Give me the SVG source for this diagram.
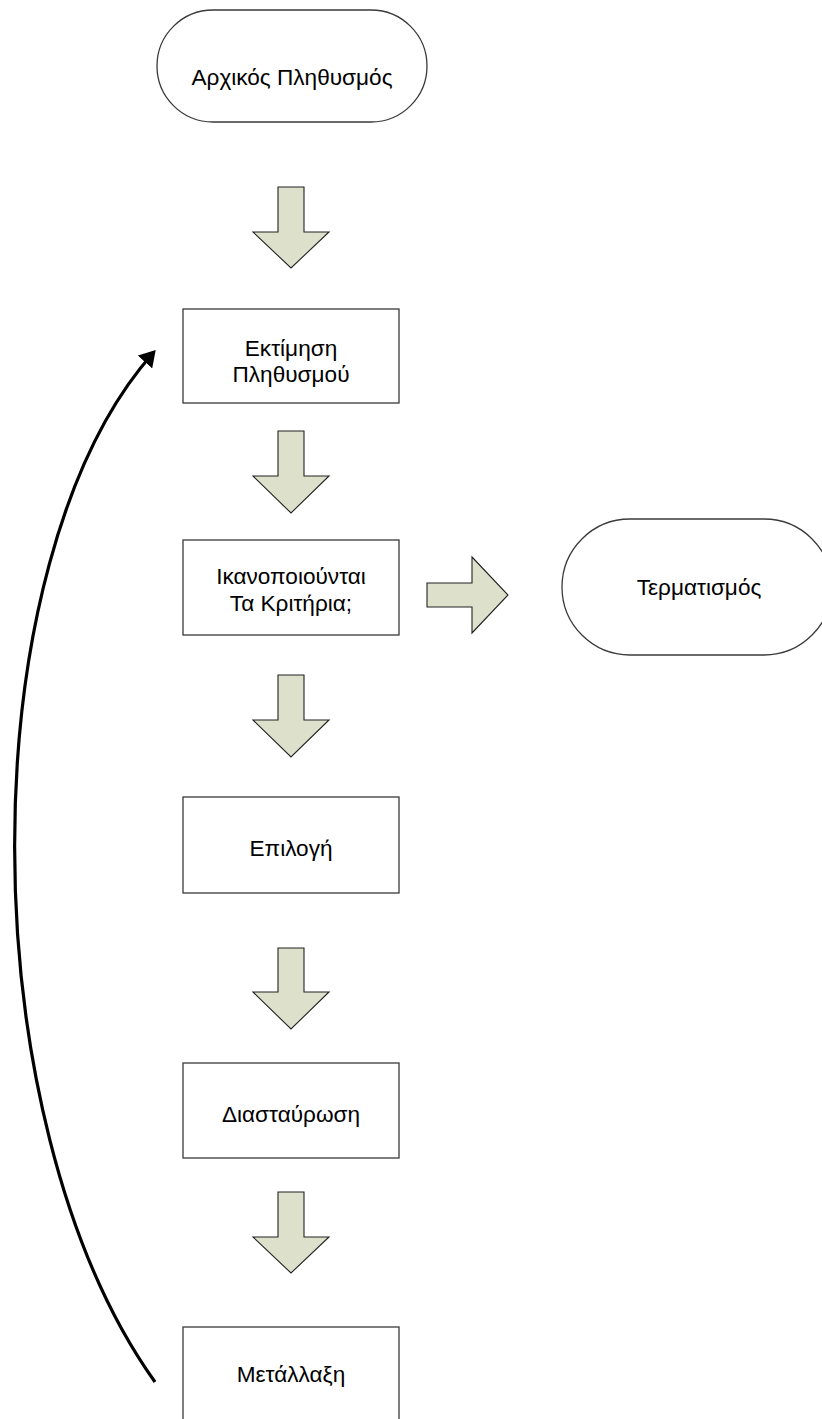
<svg xmlns="http://www.w3.org/2000/svg" width="822" height="1419" viewBox="0 0 822 1419">
<style>
.bg{fill:#ffffff}
.node rect,.node path.term{fill:#ffffff;stroke:#3a3a3a;stroke-width:1.3}
.blk{fill:#dde0ca;stroke:#222222;stroke-width:1.1;stroke-linejoin:miter}
.lbl{font-family:"Liberation Sans",Arial,sans-serif;font-size:22.6px;fill:#000000;text-anchor:middle}
.loop{fill:none;stroke:#000000;stroke-width:3.2}
</style>
<defs>
<marker id="ah" markerWidth="6" markerHeight="6" refX="4.2" refY="3" orient="auto" markerUnits="strokeWidth">
<path d="M0,0 L5,3 L0,6 Z" fill="#000000"/>
</marker>
</defs>
<rect class="bg" x="0" y="0" width="822" height="1419"/>

<g id="connectors">
<path class="blk" d="M278,187 H304 V232 H329 L291,268 L253,232 H278 Z"/>
<path class="blk" d="M278,431 H304 V476 H329 L291,513 L253,476 H278 Z"/>
<path class="blk" d="M278,675 H304 V720 H329 L291,757 L253,720 H278 Z"/>
<path class="blk" d="M278,948 H304 V992 H329 L291,1029 L253,992 H278 Z"/>
<path class="blk" d="M278,1192 H304 V1237 H329 L291,1273 L253,1237 H278 Z"/>
<path class="blk" d="M427,583 H472 V557 L508,595 L472,633 V607 H427 Z"/>
<path class="loop" d="M155,1382 C-32,1120 -32,560 154,352" marker-end="url(#ah)"/>
</g>

<g id="start" class="node">
<path class="term" d="M213,10 H371 A56,56 0 0 1 371,122 H213 A56,56 0 0 1 213,10 Z"/>
<text class="lbl" x="292" y="85">Αρχικός Πληθυσμός</text>
</g>

<g id="evaluate" class="node">
<rect x="183" y="309" width="216" height="94"/>
<text class="lbl" x="291" y="356">Εκτίμηση</text>
<text class="lbl" x="291" y="382">Πληθυσμού</text>
</g>

<g id="criteria" class="node">
<rect x="183" y="540" width="216" height="95"/>
<text class="lbl" x="291" y="584">Ικανοποιούνται</text>
<text class="lbl" x="291" y="611">Τα Κριτήρια;</text>
</g>

<g id="end" class="node">
<path class="term" d="M630,519 H764 A68,68 0 0 1 764,655 H630 A68,68 0 0 1 630,519 Z"/>
<text class="lbl" x="699" y="595">Τερματισμός</text>
</g>

<g id="selection" class="node">
<rect x="183" y="797" width="216" height="96"/>
<text class="lbl" x="291" y="856">Επιλογή</text>
</g>

<g id="crossover" class="node">
<rect x="183" y="1063" width="216" height="95"/>
<text class="lbl" x="291" y="1122">Διασταύρωση</text>
</g>

<g id="mutation" class="node">
<rect x="183" y="1327" width="216" height="96"/>
<text class="lbl" x="291" y="1382">Μετάλλαξη</text>
</g>
</svg>
